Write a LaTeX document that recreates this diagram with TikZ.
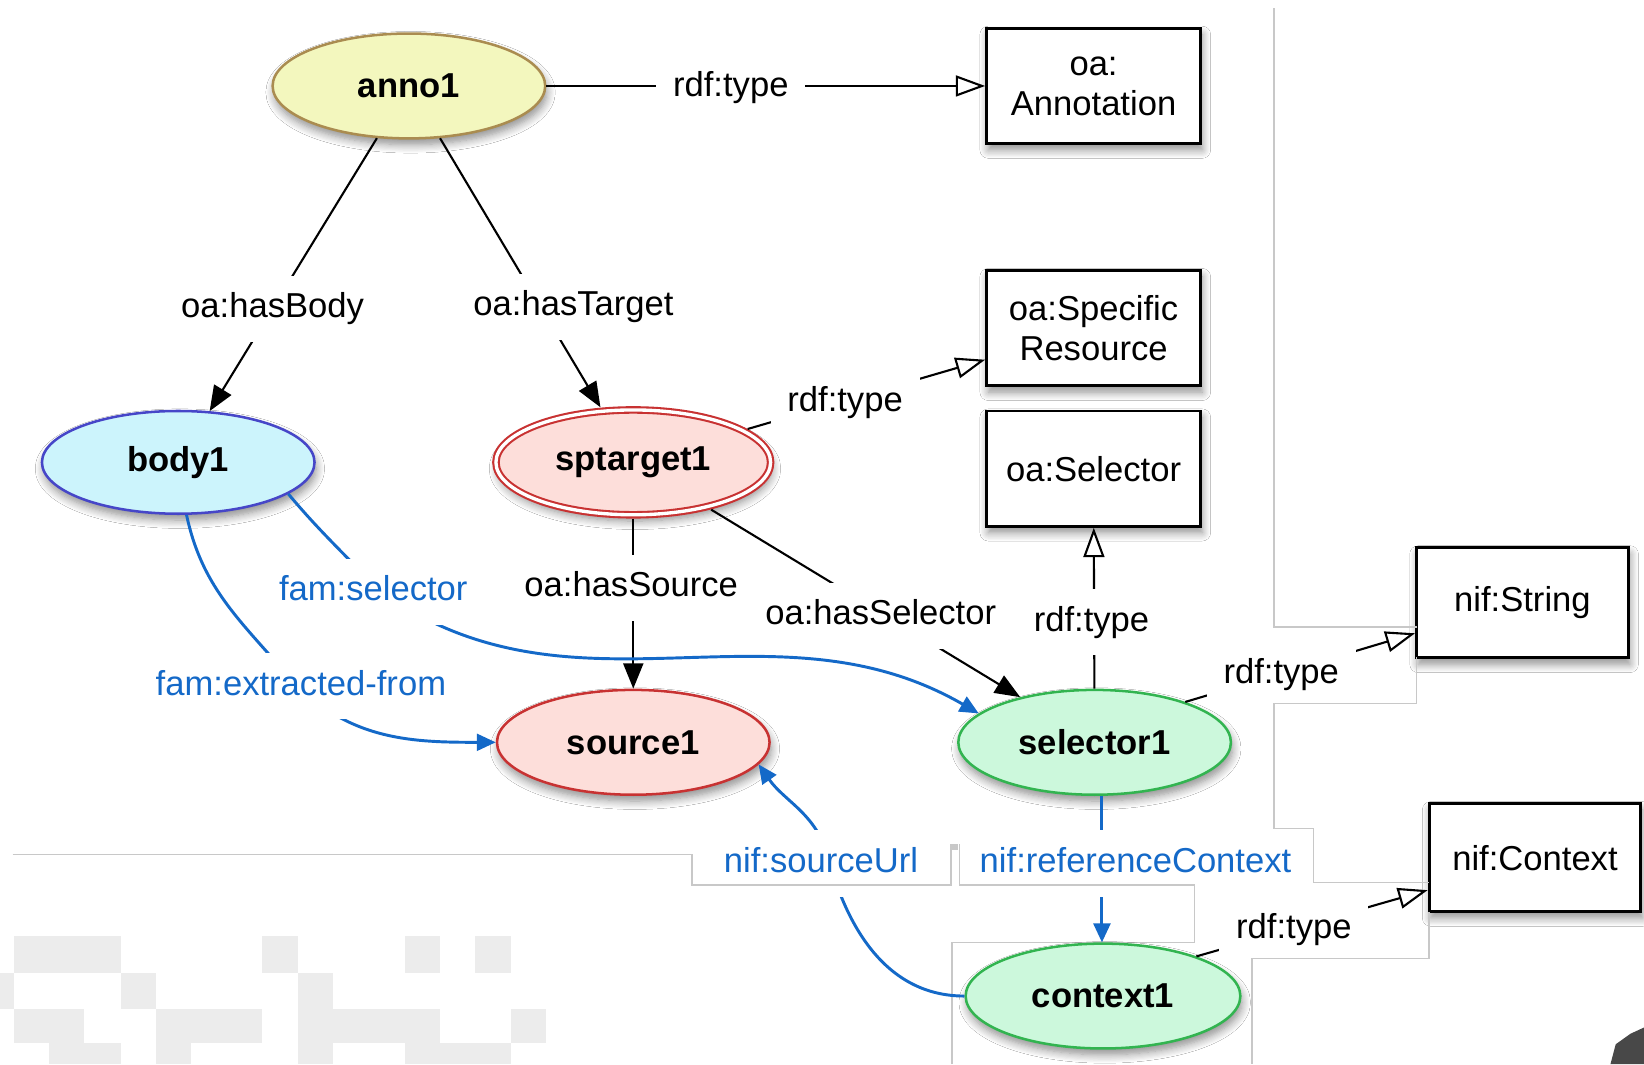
\documentclass[tikz,border=0pt]{standalone}
\usepackage{fontspec}
\setmainfont{Liberation Sans}
\usetikzlibrary{shapes.geometric,arrows.meta,calc,shadows.blur}

\definecolor{annofill}{RGB}{243,247,190}
\definecolor{annoline}{RGB}{170,140,80}
\definecolor{bodyfill}{RGB}{204,244,252}
\definecolor{bodyline}{RGB}{70,70,200}
\definecolor{redfill}{RGB}{253,222,218}
\definecolor{redline}{RGB}{200,50,50}
\definecolor{grnfill}{RGB}{204,248,220}
\definecolor{grnline}{RGB}{50,180,80}
\definecolor{fblue}{RGB}{20,105,200}
\definecolor{artgray}{RGB}{200,200,200}
\definecolor{blockgray}{RGB}{236,236,236}
\definecolor{cornergray}{RGB}{72,72,72}

\begin{document}
\begin{tikzpicture}[x=0.5pt,y=-0.5pt,
  font=\fontsize{16.5}{19}\selectfont,
  softshadow/.style={blur shadow={shadow xshift=0.8pt, shadow yshift=-3pt, shadow blur radius=4pt, shadow opacity=45, shadow blur steps=8}},
  res/.style={ellipse, draw, line width=1.2pt, minimum width=130pt, minimum height=50pt, inner sep=0pt,
              font=\fontsize{16.5}{19}\selectfont\bfseries, softshadow},
  cls/.style={rectangle, draw=black, fill=white, line width=1.4pt, minimum width=102pt, minimum height=55pt,
              align=center, softshadow},
  lbl/.style={fill=white, inner xsep=8pt, inner ysep=8pt, text height=12pt, text depth=3.5pt, yshift=-1.3pt},
  blbl/.style={lbl, text=fblue},
  rel/.style={draw=black, line width=1pt, -{Triangle[length=12pt,width=9.5pt]}},
  typ/.style={draw=black, line width=1pt, -{Triangle[open,length=14pt,width=10pt,fill=white]}},
  brel/.style={draw=fblue, line width=1.4pt, -{Triangle[length=9pt,width=8pt]}},
  artline/.style={draw=artgray, line width=0.6pt},
]
\useasboundingbox (0,0) rectangle (1568,1015);
\fill[white] (0,0) rectangle (1568,1015);

% background blocks
\begin{scope}[blockgray]
\fill (13.5,893) rectangle (115,928);
\fill (250,893) rectangle (284,928);
\fill (385.8,893) rectangle (419.7,928);
\fill (453.3,893) rectangle (487.3,928);
\fill (0,928) rectangle (13.5,962);
\fill (115,928) rectangle (148.6,962);
\fill (284,928) rectangle (317.5,962);
\fill (13.5,962) rectangle (80.3,995);
\fill (148.6,962) rectangle (250,995);
\fill (284,962) rectangle (419.7,995);
\fill (487.3,962) rectangle (520.8,995);
\fill (46.7,995) rectangle (115,1015);
\fill (148.6,995) rectangle (182.5,1015);
\fill (284,995) rectangle (317.5,1015);
\fill (385.8,995) rectangle (487.3,1015);
\end{scope}
\draw[artline] (908,1015) -- (908,899) -- (1139,899);

% resource nodes
\node[res, fill=annofill, draw=annoline] (anno1) at (390,82) {anno1};
\node[res, fill=bodyfill, draw=bodyline, minimum height=49pt] (body1) at (170,441) {body1};
\node[res, fill=redfill, draw=redline, line width=1pt, double=white, double distance=1.6pt,
      minimum width=131pt, minimum height=50pt, outer sep=2pt] (sptarget1) at (604,441) {sptarget1};
\node[res, fill=redfill, draw=redline] (source1) at (604,708) {source1};
\node[res, fill=grnfill, draw=grnline] (selector1) at (1044,708) {selector1};
\node[res, fill=grnfill, draw=grnline, minimum width=131pt] (context1) at (1052,950) {context1};

% class nodes
\node[cls] (oaAnn) at (1043,82) {oa:\\Annotation};
\node[cls] (oaSR) at (1043,313) {oa:Specific\\Resource};
\node[cls] (oaSel) at (1043,447) {oa:Selector};
\node[cls, minimum width=101pt, minimum height=52.5pt] (nifStr) at (1452,575) {nif:String};
\node[cls, minimum width=101pt, minimum height=51.5pt] (nifCtx) at (1464,818) {nif:Context};

% connectors
\draw[typ] (anno1) -- (oaAnn);
\draw[rel] (anno1) -- (body1);
\draw[rel] (anno1) -- (sptarget1);
\draw[typ] (sptarget1) -- (oaSR);
\draw[rel] (sptarget1) -- (source1);
\draw[rel] (sptarget1) -- (selector1);
\draw[typ] (selector1) -- (oaSel);
\draw[typ] (selector1.24) -- ($(nifStr.west)+(0,29)$);
\draw[typ] (context1.23) -- ($(nifCtx.west)+(0,31)$);

\coordinate (fsC) at (360,562);
\coordinate (efC) at (280,651);
\coordinate (suC) at (790,818);
\draw[brel] (body1.-16) to[out=-50,in=133] (fsC) to[out=-36,in=150] (selector1.166);
\draw[brel] (body1.-81) to[out=-78,in=130] (efC) to[out=-45,in=180] (source1.west);
\draw[brel] (context1.west) to[out=180,in=-75] (suC) to[out=105,in=-55] (source1.-10);
\draw[brel] ($(selector1.south)+(7,0)$) -- ($(context1.north)+(-1,0)$);

% labels
\node[lbl] (l1) at (697,81) {rdf:type};
\node[lbl] (l2) at (260,292) {oa:hasBody};
\node[lbl] (l3) at (547,290) {oa:hasTarget};
\node[lbl] (l4) at (806,381) {rdf:type};
\node[blbl] (l5) at (356,562) {fam:selector};
\node[lbl] (l6) at (602,558) {oa:hasSource};
\node[lbl] (l7) at (840,585) {oa:hasSelector};
\node[lbl] (l8) at (1041,591) {rdf:type};
\node[lbl] (l9) at (1222,641) {rdf:type};
\node[blbl] (l10) at (287,652) {fam:extracted-from};
\node[blbl] (l11) at (783,821) {nif:sourceUrl};
\node[blbl] (l12) at (1083,821) {nif:referenceContext};
\node[lbl] (l13) at (1234,884) {rdf:type};

% screenshot frame lines
\draw[artline] (1215,8) -- (1215,598) -- (1351,598);
\draw[artline] (1351,627) -- (1351,671) -- (1215,671) -- (1215,790) -- (1253,790) -- (1253,842) -- (1363,842);
\draw[artline] (1363,870) -- (1363,914) -- (1194,914) -- (1194,1015);
\draw[artline] (12,815) -- (660,815) -- (660,844) -- (907,844) -- (907,805);
\draw[artline] (915,805) -- (915,844) -- (1139,844) -- (1139,899);
\fill[artgray] (908,805) rectangle (914,811);
\fill[cornergray] (1536,1015) -- (1541,996) -- (1555,986) -- (1568,980) -- (1568,1015) -- cycle;
\end{tikzpicture}
\end{document}
